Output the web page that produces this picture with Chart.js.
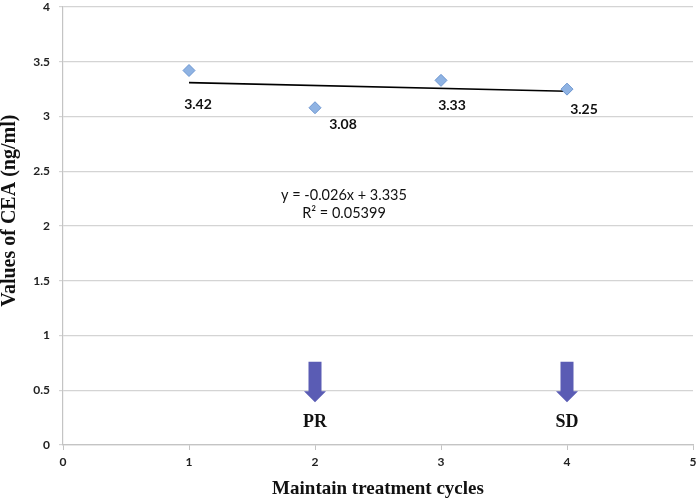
<!DOCTYPE html>
<html>
<head>
<meta charset="utf-8">
<script src="https://cdn.jsdelivr.net/npm/chart.js@4"></script>
<style>
  html, body { margin: 0; padding: 0; background: #fff; }
  #wrap { width: 700px; height: 501px; }
</style>
</head>
<body>
<div id="wrap"><canvas id="cea"></canvas></div>
<script>
// Measured CEA values per maintain cycle
const cycles = [1, 2, 3, 4];
const ceaValues = [3.42, 3.08, 3.33, 3.25];
const valueLabels = ['3.42', '3.08', '3.33', '3.25'];

// Linear trendline shown on the chart
const trendSlope = -0.026;
const trendIntercept = 3.335;
const trendX = [1, 4];
const trendText = ['y = -0.026x + 3.335', 'R\u00b2 = 0.05399'];

// Response markers
const arrowCycles = [2, 4];
const arrowLabels = ['PR', 'SD'];

const xTicks = [0, 1, 2, 3, 4, 5];
const yTicks = [0, 0.5, 1, 1.5, 2, 2.5, 3, 3.5, 4];

const xTitle = 'Maintain treatment cycles';
const yTitle = 'Values of CEA (ng/ml)';

const sansFont = 'Lato, "Open Sans", sans-serif';
const serifFont = '"Liberation Serif", "DejaVu Serif", serif';

// Excel placed each data label by hand, so keep the nudges here (pixels)
const labelNudge = [[9, 34], [28, 17], [11, 25], [17, 20]];

const annotations = {
  id: 'annotations',
  afterDatasetsDraw(chart) {
    const {ctx, scales: {x, y}} = chart;
    ctx.save();

    // data labels
    ctx.font = 'bold 14px ' + sansFont;
    ctx.fillStyle = '#111';
    ctx.textAlign = 'center';
    ctx.textBaseline = 'middle';
    cycles.forEach((c, i) => {
      const px = x.getPixelForValue(c) + labelNudge[i][0];
      const py = y.getPixelForValue(ceaValues[i]) + labelNudge[i][1];
      ctx.fillText(valueLabels[i], px, py);
    });

    // trendline equation
    ctx.font = '14.5px ' + sansFont;
    const ex = x.getPixelForValue(2.23);
    ctx.fillText(trendText[0], ex, y.getPixelForValue(2.28));
    ctx.fillText(trendText[1], ex, y.getPixelForValue(2.12));

    // arrows with response labels
    arrowCycles.forEach((c, i) => {
      const cx = x.getPixelForValue(c);
      const top = y.getPixelForValue(0.76);
      const tip = y.getPixelForValue(0.39);
      const neck = y.getPixelForValue(0.49);
      ctx.beginPath();
      ctx.moveTo(cx - 6.5, top);
      ctx.lineTo(cx + 6.5, top);
      ctx.lineTo(cx + 6.5, neck);
      ctx.lineTo(cx + 11, neck);
      ctx.lineTo(cx, tip);
      ctx.lineTo(cx - 11, neck);
      ctx.lineTo(cx - 6.5, neck);
      ctx.closePath();
      ctx.fillStyle = '#5a5cb4';
      ctx.fill();

      ctx.fillStyle = '#111';
      ctx.font = 'bold 18px ' + serifFont;
      ctx.fillText(arrowLabels[i], cx, y.getPixelForValue(0.21));
    });

    // y title sits a bit above the axis middle in the original
    ctx.translate(10, y.getPixelForValue(2.14));
    ctx.rotate(-Math.PI / 2);
    ctx.font = 'bold 20px ' + serifFont;
    ctx.fillText(yTitle, 0, 0);

    ctx.restore();
  }
};

new Chart(document.getElementById('cea'), {
  type: 'scatter',
  data: {
    datasets: [
      {
        label: 'CEA',
        data: cycles.map((c, i) => ({x: c, y: ceaValues[i]})),
        pointStyle: 'rectRot',
        pointRadius: 6,
        pointBackgroundColor: '#8fb3e3',
        pointBorderColor: '#6d96d0',
        pointBorderWidth: 1,
        order: 1
      },
      {
        type: 'line',
        label: 'Linear',
        data: trendX.map(t => ({x: t, y: trendSlope * t + trendIntercept})),
        borderColor: '#000',
        borderWidth: 1.6,
        pointRadius: 0,
        fill: false,
        order: 2
      }
    ]
  },
  options: {
    responsive: true,
    maintainAspectRatio: false,
    animation: false,
    layout: {padding: {top: 5, right: 6, left: 0, bottom: 0}},
    plugins: {
      legend: {display: false},
      tooltip: {enabled: false}
    },
    scales: {
      x: {
        type: 'linear',
        min: 0,
        max: 5,
        afterBuildTicks: s => { s.ticks = xTicks.map(v => ({value: v})); },
        afterFit: s => { s.height = 56; s.paddingLeft = 0; s.paddingRight = 0; },
        grid: {
          display: true,
          drawOnChartArea: false,
          drawTicks: true,
          tickLength: 5,
          color: '#c4c4c4'
        },
        border: {color: '#c4c4c4', width: 1.2},
        ticks: {
          color: '#222',
          padding: 5,
          font: {family: sansFont, size: 12, weight: 'bold'}
        },
        title: {
          display: true,
          text: xTitle,
          color: '#111',
          padding: {top: 0, bottom: 1},
          font: {family: serifFont, size: 19, weight: 'bold'}
        }
      },
      y: {
        min: 0,
        max: 4,
        afterBuildTicks: s => { s.ticks = yTicks.map(v => ({value: v})); },
        afterFit: s => { s.width = 63; s.paddingTop = 0; s.paddingBottom = 0; },
        grid: {
          color: '#d4d4d4',
          lineWidth: 1.2,
          drawTicks: true,
          tickLength: 4
        },
        border: {color: '#c4c4c4', width: 1.2},
        ticks: {
          color: '#222',
          padding: 9,
          callback: v => String(v),
          font: {family: sansFont, size: 12, weight: 'bold'}
        },
        title: {display: false}
      }
    }
  },
  plugins: [annotations]
});
</script>
</body>
</html>
